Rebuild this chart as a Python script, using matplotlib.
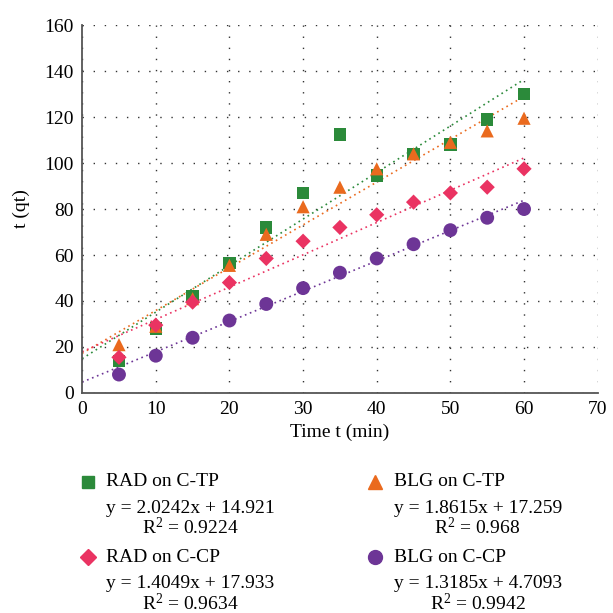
import numpy as np
import matplotlib.pyplot as plt

plt.rcParams['font.family'] = ['Liberation Serif', 'DejaVu Serif']

# time points (min)
t_min = [5, 10, 15, 20, 25, 30, 35, 40, 45, 50, 55, 60]

# measured t(qt) for each sample
rad_ctp = [14, 28, 42, 56.5, 72, 87, 112.5, 94.5, 104, 108, 119, 130]
blg_ctp = [21, 29, 41, 55.5, 69, 81, 89.5, 97.5, 104, 109, 114, 119.5]
rad_ccp = [15.5, 29.5, 39.5, 48, 58.5, 66, 72, 77.5, 83, 87, 89.5, 97.5]
blg_ccp = [8, 16.2, 24, 31.5, 38.7, 45.6, 52.3, 58.5, 64.7, 70.8, 76.2, 80]

# linear fits: slope, intercept, R^2
fit_slope = [2.0242, 1.8615, 1.4049, 1.3185]
fit_icpt = [14.921, 17.259, 17.933, 4.7093]
fit_r2 = ['0.9224', '0.968', '0.9634', '0.9942']
fit_icpt_txt = ['14.921', '17.259', '17.933', '4.7093']

names = ['RAD on C-TP', 'BLG on C-TP', 'RAD on C-CP', 'BLG on C-CP']
colors = ['#2b8a3a', '#ea6a1e', '#ea3362', '#6d3596']
markers = ['s', '^', 'D', 'o']
sizes = [80, 90, 60, 100]

fig = plt.figure(figsize=(6.13, 6.13), dpi=100)
ax = fig.add_axes([0.134, 0.359, 0.841, 0.6])

series = [rad_ctp, blg_ctp, rad_ccp, blg_ccp]
xs = np.array(t_min)
xfit = np.linspace(0, 60, 50)
for i in range(4):
    ax.plot(xfit, fit_slope[i] * xfit + fit_icpt[i], linestyle=(0, (1, 2.2)),
            color=colors[i], lw=1.2, zorder=2)
for i in range(4):
    ax.scatter(xs, series[i], marker=markers[i], s=sizes[i], color=colors[i],
               edgecolors='none', zorder=3)

ax.set_xlim(0, 70)
ax.set_ylim(0, 160)
ax.set_xticks(range(0, 71, 10))
ax.set_yticks(range(0, 161, 20))
ax.grid(True, linestyle=(0, (1, 7)), color='#333333', lw=1.0)
ax.tick_params(length=0, labelsize=14, pad=6)
for s in ['top', 'right']:
    ax.spines[s].set_visible(False)
for s in ['left', 'bottom']:
    ax.spines[s].set_color('#555555')
    ax.spines[s].set_linewidth(1.3)
ax.set_xlabel('Time t (min)', fontsize=14, labelpad=4)
ax.set_ylabel('t (qt)', fontsize=14, labelpad=10)

# legend block below the axes, two columns
col_x = [0.143, 0.612]
row_y = [0.786, 0.909]
for i in range(4):
    cx = col_x[i % 2]
    ry = row_y[i // 2]
    fig.text(cx + 0.03, 1 - ry, names[i], fontsize=14, va='center')
    fig.add_artist(plt.Line2D([cx], [1 - ry], marker=markers[i], color=colors[i],
                              markersize=np.sqrt(sizes[i]), linestyle='none',
                              transform=fig.transFigure))
    eq = 'y = %.4fx + %s' % (fit_slope[i], fit_icpt_txt[i])
    fig.text(cx + 0.03, 1 - ry - 0.043, eq, fontsize=14, va='center')
    fig.text(cx + 0.167, 1 - ry - 0.075, '$\\mathregular{R^2}$ = ' + fit_r2[i],
             fontsize=14, va='center', ha='center')

fig.savefig('out.png', dpi=100)
